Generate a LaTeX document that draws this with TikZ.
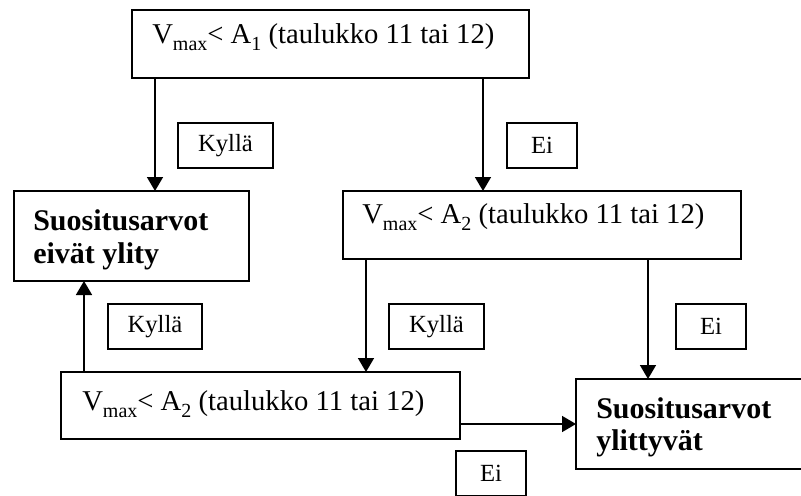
\documentclass[tikz,border=0pt]{standalone}
\usepackage{fontspec}
\setmainfont{Liberation Serif}
\usetikzlibrary{arrows.meta,fit}
\newcommand\sbx[1]{\raisebox{-0.25em}{\fontsize{15}{15}\selectfont #1}}
\begin{document}
\begin{tikzpicture}[x=0.75pt,y=-0.75pt,
  box/.style={draw, line width=1.5pt, inner sep=0pt, outer sep=0pt},
  lbl/.style={draw, line width=1.3pt, inner sep=0pt, minimum height=33.75pt, font=\fontsize{18.5}{22}\selectfont},
  maintxt/.style={anchor=base west, inner sep=0pt, font=\fontsize{21.5}{26}\selectfont},
  boldtxt/.style={anchor=base west, inner sep=0pt, font=\fontsize{22.5}{24.75}\selectfont\bfseries},
  arr/.style={line width=1.2pt, -{Triangle[length=10.5pt,width=12pt]}}]
\useasboundingbox (0,0) rectangle (801,496);
\clip (0,0) rectangle (801,496);
% main boxes
\node[box, fit={(132,10) (529,78)}] (top) {};
\node[box, fit={(14,191) (249,281)}] (lbox) {};
\node[box, fit={(343,191) (741,259)}] (mid) {};
\node[box, fit={(61,372) (460,439)}] (bl) {};
\node[box, fit={(576,379) (830,469)}] (br) {};
% texts
\node[maintxt] (ttop) at (152,43) {V\sbx{max}< A\sbx{1} (taulukko 11 tai 12)};
\node[maintxt] (tmid) at (362,223) {V\sbx{max}< A\sbx{2} (taulukko 11 tai 12)};
\node[maintxt] (tbl) at (82,410) {V\sbx{max}< A\sbx{2} (taulukko 11 tai 12)};
\node[boldtxt] (tl1) at (33,230) {Suositusarvot};
\node[boldtxt] (tl2) at (33,263) {eivät ylity};
\node[boldtxt] (tr1) at (596,418) {Suositusarvot};
\node[boldtxt] (tr2) at (596,450) {ylittyvät};
% small labels
\node[lbl, minimum width=71.25pt] (k1) at (225.5,145.5) {Kyllä};
\node[lbl, minimum width=52.5pt] (e1) at (542,145.5) {Ei};
\node[lbl, minimum width=70.5pt] (k2) at (155,326.5) {Kyllä};
\node[lbl, minimum width=71.25pt] (k3) at (436.5,326.5) {Kyllä};
\node[lbl, minimum width=52.5pt] (e2) at (711,326.5) {Ei};
\node[lbl, minimum width=52.5pt] (e3) at (491,473.5) {Ei};
% connector x positions
\coordinate (xa) at (155,0);
\coordinate (xb) at (483,0);
\coordinate (xc) at (366,0);
\coordinate (xd) at (648,0);
\coordinate (xe) at (84,0);
% connectors
\draw[arr] (top.south -| xa) -- (lbox.north -| xa);
\draw[arr] (top.south -| xb) -- (mid.north -| xb);
\draw[arr] (mid.south -| xc) -- (bl.north -| xc);
\draw[arr] (mid.south -| xd) -- (br.north -| xd);
\draw[arr] (bl.north -| xe) -- (lbox.south -| xe);
\draw[arr] (bl.east |- br.west) -- (br.west);
\end{tikzpicture}
\end{document}
